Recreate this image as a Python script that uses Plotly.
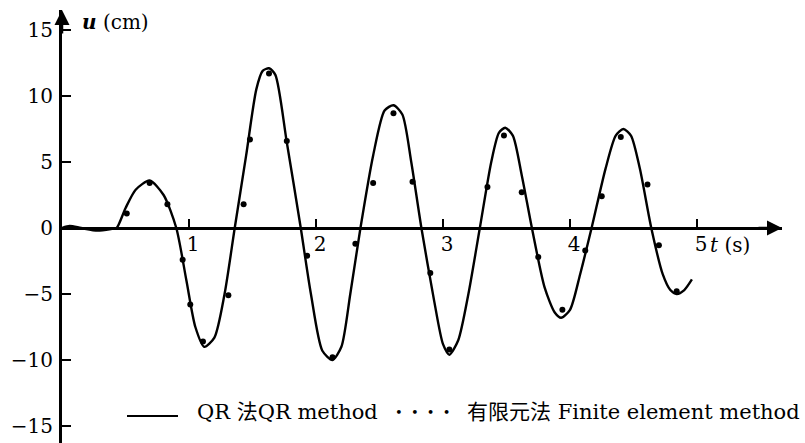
import plotly.graph_objects as go

# QR method curve (t in s, u in cm)
qr_t = [0.00, 0.06, 0.15, 0.28, 0.40, 0.43, 0.50, 0.58, 0.69, 0.80, 0.90, 0.98, 1.05, 1.12, 1.20,
        1.28, 1.36, 1.45, 1.53, 1.58, 1.63, 1.68, 1.77, 1.88, 1.96, 2.05, 2.13, 2.20, 2.27, 2.35,
        2.45, 2.54, 2.61, 2.68, 2.75, 2.83, 2.93, 3.00, 3.05, 3.12, 3.20, 3.29, 3.38, 3.44, 3.49,
        3.55, 3.62, 3.70, 3.80, 3.88, 3.93, 4.00, 4.08, 4.17, 4.28, 4.36, 4.42, 4.48, 4.55, 4.64,
        4.73, 4.79, 4.84, 4.90, 4.96]
qr_u = [0.0, 0.15, 0.0, -0.2, -0.05, 0.0, 1.5, 2.9, 3.6, 2.5, 0.0, -4.0, -7.5, -9.0, -8.3,
        -5.0, 0.0, 5.5, 10.5, 11.9, 12.1, 11.6, 6.5, 0.0, -5.0, -9.3, -10.0, -9.0, -5.0, 0.0,
        5.5, 8.9, 9.3, 8.6, 5.0, 0.0, -5.5, -8.8, -9.6, -8.5, -5.0, 0.0, 5.0, 7.2, 7.6,
        7.0, 4.0, 0.0, -4.5, -6.4, -6.8, -6.2, -3.5, 0.0, 4.5, 7.0, 7.5, 7.0, 4.5, 0.0,
        -3.5, -4.7, -5.0, -4.7, -3.9]

# Finite element method points
fe_t = [0.51, 0.69, 0.83, 0.95, 1.01, 1.11, 1.31, 1.43, 1.48, 1.63, 1.77, 1.93, 2.13, 2.31, 2.45,
        2.61, 2.76, 2.90, 3.05, 3.35, 3.48, 3.62, 3.75, 3.94, 4.12, 4.25, 4.40, 4.61, 4.70, 4.84]
fe_u = [1.1, 3.4, 1.8, -2.4, -5.8, -8.6, -5.1, 1.8, 6.7, 11.7, 6.6, -2.1, -9.8, -1.2, 3.4,
        8.7, 3.5, -3.4, -9.2, 3.1, 7.0, 2.7, -2.2, -6.2, -1.7, 2.4, 6.9, 3.3, -1.3, -4.8]

x_ticks = [1, 2, 3, 4, 5]
x_labels = ["1", "2", "3", "4", "5"]
y_ticks = [15, 10, 5, 0, -5, -10, -15]
y_labels = ["15", "10", "5", "0", "\u22125", "\u221210", "\u221215"]

FONT = "DejaVu Serif, Noto Sans CJK SC, serif"
FS = 20
LFS = 21

W, H = 805, 443
ml, mr, mt, mb = 62, 23, 10, 0
pw = W - ml - mr
ph = H - mt - mb
XMAX = 720 / 127
YTOP = (228 - 10) / 13.2
YBOT = -(443 - 228) / 13.2


def px(xp):
    return (xp - ml) / pw


def py(yp):
    return 1 - (yp - mt) / ph


fig = go.Figure()
fig.add_trace(go.Scatter(x=qr_t, y=qr_u, mode="lines",
                         line=dict(color="black", width=2.4, shape="spline", smoothing=0.7),
                         showlegend=False, cliponaxis=False))
fig.add_trace(go.Scatter(x=fe_t, y=fe_u, mode="markers",
                         marker=dict(color="black", size=6),
                         showlegend=False, cliponaxis=False))

fig.update_layout(
    width=W, height=H,
    margin=dict(l=ml, r=mr, t=mt, b=mb, pad=0, autoexpand=False),
    paper_bgcolor="white", plot_bgcolor="white",
    font=dict(family=FONT, size=FS, color="black"),
    showlegend=False,
    xaxis=dict(range=[0, XMAX], showgrid=False, zeroline=False, showline=False,
               automargin=False,
               tickvals=x_ticks, ticktext=x_labels, ticks="inside", ticklen=9,
               tickwidth=2, tickcolor="black", anchor="free",
               position=-YBOT / (YTOP - YBOT), ticklabelshift=4, ticklabelstandoff=2,
               tickfont=dict(family=FONT, size=FS, color="black")),
    yaxis=dict(range=[YBOT, YTOP], showgrid=False, zeroline=True, zerolinecolor="black",
               zerolinewidth=3, showline=True, linecolor="black", linewidth=3,
               automargin=False,
               tickvals=y_ticks, ticktext=y_labels, ticks="inside", ticklen=9,
               tickwidth=2, tickcolor="black", ticklabelstandoff=2,
               tickfont=dict(family=FONT, size=FS, color="black")),
)

# axis arrowheads
fig.add_annotation(x=XMAX, y=0, xref="x", yref="y", ax=-25, ay=0,
                   text="", showarrow=True, arrowhead=2, arrowsize=1.2, arrowwidth=2.5,
                   arrowcolor="black")
fig.add_annotation(x=0, y=YTOP, xref="x", yref="y", ax=0, ay=25,
                   text="", showarrow=True, arrowhead=2, arrowsize=1.2, arrowwidth=2.5,
                   arrowcolor="black")

# axis titles
fig.add_annotation(x=px(80), y=py(22), xref="paper", yref="paper", text="<b><i>u</i></b> (cm)",
                   showarrow=False, xanchor="left", yanchor="middle",
                   font=dict(family=FONT, size=FS, color="black"))
fig.add_annotation(x=5.09, y=0, xref="x", yref="y", yshift=-17, text="<i>t</i> (s)",
                   showarrow=False, xanchor="left", yanchor="middle",
                   font=dict(family=FONT, size=FS, color="black"))

# legend (drawn manually)
fig.add_shape(type="line", xref="paper", yref="paper",
              x0=px(127), x1=px(178), y0=py(416), y1=py(416),
              line=dict(color="black", width=2))
fig.add_annotation(x=px(195), y=py(412), xref="paper", yref="paper", text="QR 法QR method",
                   showarrow=False, xanchor="left", yanchor="middle",
                   font=dict(family=FONT, size=LFS, color="black"))
fig.add_annotation(x=px(393), y=py(412), xref="paper", yref="paper", text="•  •  •  •",
                   showarrow=False, xanchor="left", yanchor="middle",
                   font=dict(family=FONT, size=13, color="black"))
fig.add_annotation(x=px(802), y=py(412), xref="paper", yref="paper",
                   text="有限元法 Finite element method", showarrow=False,
                   xanchor="right", yanchor="middle",
                   font=dict(family=FONT, size=LFS, color="black"))

fig.write_html("out.html", post_script="document.body.style.margin='0';",
               config={"displayModeBar": False})
